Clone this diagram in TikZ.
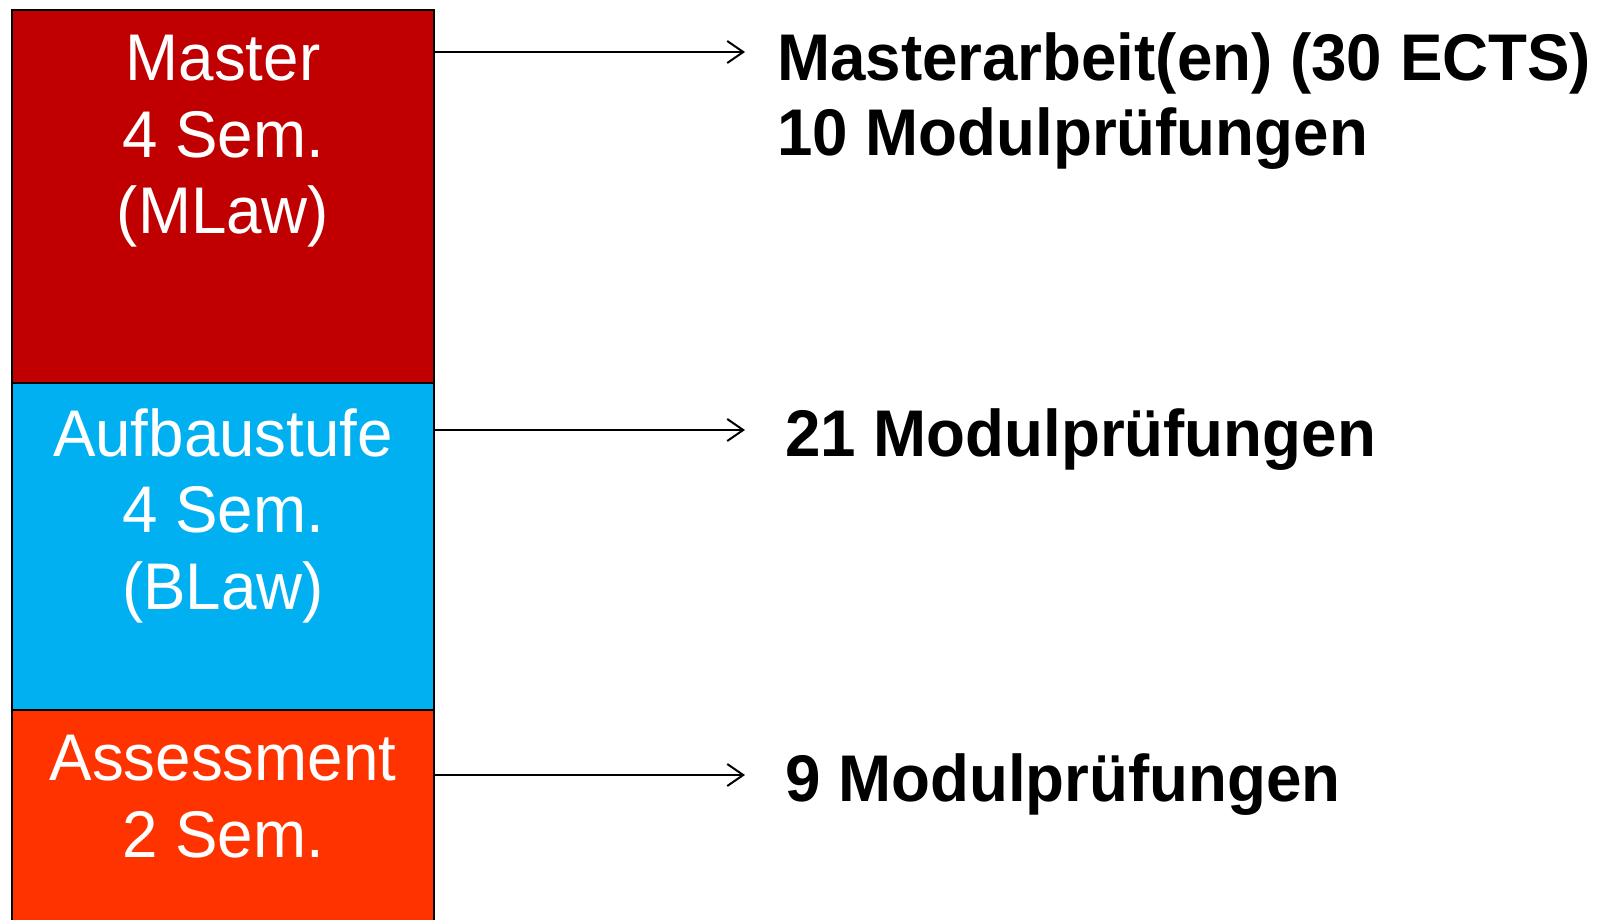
\documentclass[tikz,border=0pt]{standalone}
\usepackage{fontspec}
\setmainfont{Liberation Sans}[FakeStretch=0.965]
\usetikzlibrary{arrows.meta}
\definecolor{masterred}{RGB}{192,0,0}
\definecolor{aufbaublue}{RGB}{0,176,240}
\definecolor{assessred}{RGB}{255,51,0}
\begin{document}
\begin{tikzpicture}[x=1pt,y=-1pt,
  stage/.style={draw=black, line width=2pt, minimum width=422pt, inner sep=0pt, outer sep=0pt, anchor=north west},
  stagetext/.style={text=white, font=\fontsize{66}{76.5}\selectfont, align=center, anchor=north, inner sep=0pt},
  result/.style={font=\fontsize{66}{75.5}\selectfont\bfseries, align=left, anchor=north west, inner sep=0pt},
  arr/.style={line width=2pt, -{Straight Barb[length=16pt,width=22pt,line width=2pt]}}]
\useasboundingbox (0,0) rectangle (1598,919);
\clip (0,0) rectangle (1598,919);
\node[stage, fill=masterred, minimum height=373pt] (master) at (12,10) {};
\node[stage, fill=aufbaublue, minimum height=327pt] (aufbau) at (12,383) {};
\node[stage, fill=assessred, minimum height=240pt] (assess) at (12,710) {};
\node[stagetext] (tmaster) at (223,35) {Master\\4 Sem.\\(MLaw)};
\node[stagetext] (taufbau) at (223,408) {Aufbaustufe\\4 Sem.\\(BLaw)};
\node[stagetext] (tassess) at (223,735) {Assessment\\2 Sem.};
\node[result] (r1) at (777,32) {Masterarbeit(en) (30 ECTS)\\10 Modulprüfungen};
\node[result] (r2) at (785,408) {21 Modulprüfungen};
\node[result] (r3) at (785,753) {9 Modulprüfungen};
\coordinate (s1) at (434,52);
\coordinate (e1) at (745,52);
\coordinate (s2) at (434,430);
\coordinate (e2) at (745,430);
\coordinate (s3) at (434,775);
\coordinate (e3) at (745,775);
\draw[arr] (s1) -- (e1);
\draw[arr] (s2) -- (e2);
\draw[arr] (s3) -- (e3);
\end{tikzpicture}
\end{document}
